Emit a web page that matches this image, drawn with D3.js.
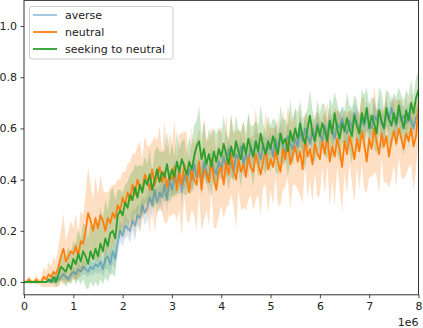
<!DOCTYPE html>
<html><head><meta charset="utf-8">
<script src="https://cdn.jsdelivr.net/npm/d3@7"></script>
<style>body{margin:0;background:#fff}svg{display:block}</style>
</head><body>
<script>
const seriesNames = ["averse", "neutral", "seeking to neutral"];
const xTicks = [0,1e6,2e6,3e6,4e6,5e6,6e6,7e6,8e6];
const yTicks = [0,0.2,0.4,0.6,0.8,1.0];
const steps = d3.range(0, 8000001, 50000);

const averseMean = [
0,0,0,0,0,0,0,0,0,0,
0,0.01,0,0.02,0.01,0.02,0.03,0.02,0.01,0.03,
0.04,0.03,0.05,0.04,0.06,0.05,0.04,0.06,0.05,0.07,
0.06,0.08,0.05,0.09,0.1,0.07,0.12,0.09,0.15,0.2,
0.18,0.22,0.21,0.2,0.24,0.22,0.26,0.25,0.3,0.27,
0.29,0.33,0.3,0.36,0.31,0.35,0.33,0.38,0.32,0.4,
0.36,0.41,0.38,0.43,0.35,0.42,0.39,0.44,0.4,0.46,
0.41,0.45,0.39,0.47,0.43,0.4,0.48,0.44,0.42,0.47,
0.44,0.49,0.45,0.52,0.47,0.43,0.5,0.48,0.53,0.46,
0.5,0.47,0.53,0.49,0.55,0.51,0.48,0.54,0.5,0.52,
0.54,0.49,0.56,0.52,0.58,0.53,0.5,0.57,0.54,0.52,
0.56,0.53,0.59,0.55,0.6,0.57,0.54,0.6,0.56,0.62,
0.58,0.55,0.61,0.57,0.63,0.59,0.56,0.62,0.6,0.64,
0.6,0.58,0.63,0.6,0.66,0.62,0.59,0.64,0.61,0.65,
0.62,0.6,0.65,0.63,0.67,0.62,0.6,0.66,0.63,0.68,
0.64,0.61,0.67,0.63,0.65,0.62,0.66,0.63,0.6,0.64,
0.66];
const averseSpread = [
0,0,0,0,0,0,0,0,0,0,
0.005,0.01,0.01,0.015,0.01,0.02,0.02,0.015,0.01,0.02,
0.02,0.025,0.03,0.02,0.03,0.025,0.02,0.03,0.025,0.03,
0.03,0.04,0.03,0.04,0.05,0.04,0.05,0.04,0.05,0.04,
0.04,0.05,0.03,0.05,0.04,0.06,0.04,0.05,0.03,0.05,
0.05,0.04,0.06,0.04,0.05,0.03,0.06,0.04,0.05,0.04,
0.04,0.06,0.05,0.04,0.06,0.05,0.03,0.05,0.04,0.06,
0.05,0.04,0.06,0.05,0.04,0.06,0.05,0.04,0.05,0.06,
0.04,0.05,0.06,0.04,0.05,0.04,0.06,0.05,0.04,0.05,
0.05,0.06,0.04,0.05,0.04,0.06,0.05,0.04,0.06,0.05,
0.04,0.05,0.06,0.04,0.05,0.06,0.04,0.05,0.04,0.06,
0.05,0.04,0.06,0.05,0.04,0.05,0.06,0.04,0.05,0.04,
0.06,0.04,0.05,0.04,0.06,0.05,0.04,0.05,0.06,0.04,
0.05,0.06,0.04,0.05,0.04,0.06,0.05,0.04,0.05,0.06,
0.04,0.05,0.06,0.04,0.05,0.04,0.06,0.05,0.04,0.05,
0.05,0.04,0.05,0.06,0.04,0.05,0.04,0.06,0.05,0.04,
0.05];

const neutralMean = [
0,0,0.01,0,0,0.01,0,0,0.02,0.01,
0.03,0.02,0.04,0.03,0.06,0.1,0.13,0.08,0.1,0.12,
0.11,0.14,0.1,0.16,0.15,0.2,0.27,0.24,0.2,0.25,
0.21,0.26,0.24,0.2,0.25,0.23,0.27,0.25,0.3,0.28,
0.33,0.3,0.35,0.32,0.38,0.34,0.4,0.37,0.36,0.42,
0.4,0.36,0.44,0.38,0.41,0.45,0.39,0.43,0.37,0.42,
0.4,0.45,0.36,0.43,0.38,0.46,0.41,0.35,0.44,0.4,
0.38,0.47,0.36,0.44,0.42,0.39,0.48,0.4,0.36,0.43,
0.45,0.38,0.47,0.42,0.5,0.44,0.4,0.48,0.43,0.46,
0.41,0.49,0.45,0.43,0.5,0.46,0.42,0.47,0.52,0.44,
0.48,0.45,0.51,0.47,0.43,0.52,0.48,0.55,0.46,0.5,
0.53,0.47,0.51,0.44,0.56,0.49,0.52,0.46,0.54,0.5,
0.48,0.55,0.5,0.58,0.47,0.53,0.49,0.56,0.52,0.45,
0.55,0.5,0.57,0.53,0.48,0.56,0.51,0.59,0.54,0.47,
0.56,0.52,0.6,0.55,0.5,0.58,0.53,0.57,0.49,0.55,
0.59,0.54,0.6,0.56,0.52,0.58,0.55,0.6,0.53,0.57,
0.68];
const neutralSpread = [
0.005,0.01,0.015,0.01,0.005,0.02,0.01,0.02,0.04,0.03,
0.05,0.04,0.06,0.05,0.08,0.1,0.14,0.08,0.1,0.12,
0.1,0.13,0.09,0.12,0.11,0.15,0.18,0.14,0.12,0.16,
0.13,0.16,0.12,0.15,0.1,0.14,0.11,0.13,0.1,0.12,
0.1,0.13,0.11,0.15,0.12,0.16,0.13,0.18,0.12,0.15,
0.13,0.17,0.11,0.19,0.14,0.16,0.12,0.2,0.14,0.16,
0.14,0.18,0.12,0.15,0.2,0.13,0.17,0.12,0.16,0.14,
0.18,0.13,0.16,0.2,0.14,0.17,0.12,0.19,0.15,0.17,
0.15,0.13,0.18,0.12,0.16,0.14,0.19,0.12,0.15,0.17,
0.13,0.17,0.11,0.15,0.18,0.12,0.16,0.1,0.14,0.17,
0.12,0.15,0.1,0.17,0.13,0.16,0.11,0.14,0.18,0.12,
0.15,0.11,0.17,0.13,0.1,0.16,0.12,0.15,0.11,0.17,
0.14,0.1,0.16,0.12,0.17,0.13,0.19,0.11,0.15,0.18,
0.12,0.16,0.1,0.14,0.17,0.11,0.15,0.13,0.18,0.12,
0.15,0.11,0.17,0.13,0.16,0.1,0.14,0.18,0.12,0.15,
0.13,0.17,0.11,0.15,0.12,0.16,0.1,0.14,0.17,0.13,
0.12];

const seekingMean = [
0,0,0,0,0,0,0,0,0,0,
0.01,0,0.02,0,0.03,0.06,0.05,0.04,0.07,0.05,
0.09,0.07,0.11,0.08,0.12,0.1,0.07,0.12,0.09,0.13,
0.1,0.15,0.12,0.17,0.14,0.19,0.2,0.17,0.26,0.28,
0.26,0.31,0.29,0.34,0.32,0.37,0.33,0.38,0.35,0.4,
0.38,0.42,0.36,0.4,0.44,0.39,0.43,0.41,0.46,0.4,
0.44,0.41,0.47,0.43,0.48,0.45,0.42,0.47,0.44,0.49,
0.53,0.55,0.48,0.52,0.46,0.5,0.45,0.51,0.47,0.52,
0.49,0.54,0.5,0.46,0.53,0.49,0.55,0.51,0.48,0.54,
0.5,0.56,0.52,0.49,0.55,0.51,0.58,0.53,0.5,0.55,
0.52,0.57,0.53,0.5,0.58,0.54,0.56,0.51,0.59,0.55,
0.6,0.56,0.62,0.57,0.54,0.6,0.65,0.58,0.55,0.61,
0.57,0.62,0.59,0.55,0.63,0.58,0.66,0.6,0.56,0.62,
0.59,0.64,0.6,0.57,0.65,0.61,0.58,0.66,0.62,0.68,
0.6,0.65,0.62,0.58,0.67,0.63,0.6,0.68,0.64,0.61,
0.66,0.62,0.69,0.64,0.6,0.67,0.63,0.7,0.66,0.72,
0.75];
const seekingSpread = [
0,0,0,0,0,0,0,0,0,0.005,
0.01,0.01,0.02,0.02,0.04,0.05,0.05,0.06,0.07,0.06,
0.07,0.08,0.1,0.09,0.11,0.12,0.1,0.12,0.11,0.13,
0.12,0.14,0.13,0.15,0.14,0.16,0.17,0.15,0.1,0.08,
0.09,0.07,0.1,0.08,0.11,0.09,0.12,0.08,0.1,0.09,
0.08,0.1,0.07,0.11,0.09,0.12,0.08,0.1,0.13,0.09,
0.1,0.08,0.12,0.09,0.07,0.11,0.08,0.1,0.09,0.12,
0.1,0.14,0.09,0.11,0.08,0.1,0.12,0.09,0.11,0.08,
0.09,0.11,0.08,0.1,0.12,0.09,0.1,0.08,0.11,0.09,
0.08,0.1,0.09,0.12,0.08,0.1,0.11,0.09,0.08,0.1,
0.09,0.07,0.1,0.08,0.11,0.09,0.08,0.1,0.12,0.09,
0.08,0.1,0.09,0.07,0.11,0.08,0.1,0.09,0.08,0.1,
0.09,0.08,0.1,0.07,0.09,0.11,0.08,0.1,0.09,0.07,
0.08,0.1,0.09,0.11,0.08,0.1,0.07,0.09,0.11,0.08,
0.09,0.07,0.1,0.08,0.09,0.11,0.08,0.07,0.1,0.09,
0.08,0.1,0.07,0.09,0.11,0.08,0.1,0.09,0.07,0.08,
0.07];

const colors = ["#1f77b4", "#ff7f0e", "#2ca02c"];
const lineOpacity = [0.45, 1, 1];
const fillOpacity = [0.18, 0.25, 0.25];
const means = [averseMean, neutralMean, seekingMean];
const spreads = [averseSpread, neutralSpread, seekingSpread];

const W = 423, H = 328;
const svg = d3.select("body").append("svg").attr("width", W).attr("height", H)
  .style("font-family", "DejaVu Sans, sans-serif");

const x = d3.scaleLinear().domain([0, 8e6]).range([24, 418.5]);
const y = d3.scaleLinear().domain([-0.05, 1.1]).range([294.8, 0.4]);

const clipId = "plotclip";
svg.append("clipPath").attr("id", clipId).append("rect")
  .attr("x", 24).attr("y", 0.4).attr("width", 394.5).attr("height", 294.4);

const plot = svg.append("g").attr("clip-path", `url(#${clipId})`);

means.forEach((m, k) => {
  const pts = steps.map((s, i) => ({s, m: m[i], d: spreads[k][i]}));
  const area = d3.area().x(d => x(d.s)).y0(d => y(d.m - d.d)).y1(d => y(d.m + d.d));
  plot.append("path").attr("d", area(pts)).attr("fill", colors[k]).attr("fill-opacity", fillOpacity[k]);
});
means.forEach((m, k) => {
  const pts = steps.map((s, i) => ({s, m: m[i]}));
  const line = d3.line().x(d => x(d.s)).y(d => y(d.m));
  plot.append("path").attr("d", line(pts)).attr("fill", "none")
    .attr("stroke", colors[k]).attr("stroke-opacity", lineOpacity[k])
    .attr("stroke-width", 1.8).attr("stroke-linejoin", "round");
});

// axes
const xAxis = d3.axisBottom(x).tickValues(xTicks).tickFormat(d => d / 1e6).tickSize(3.5).tickPadding(3.5);
const yAxis = d3.axisLeft(y).tickValues(yTicks).tickFormat(d3.format(".1f")).tickSize(3.5).tickPadding(3.5);
const gx = svg.append("g").attr("transform", "translate(0,294.8)").call(xAxis);
const gy = svg.append("g").attr("transform", "translate(24,0)").call(yAxis);
[gx, gy].forEach(g => {
  g.select(".domain").remove();
  g.selectAll("line").attr("stroke", "#333").attr("stroke-width", 0.9);
  g.selectAll("text").attr("fill", "#222").style("font-size", "11px").style("font-family", "DejaVu Sans, sans-serif");
});

// frame
svg.append("rect").attr("x", 24).attr("y", 0.4).attr("width", 394.5).attr("height", 294.4)
  .attr("fill", "none").attr("stroke", "#333").attr("stroke-width", 1);

svg.append("text").attr("x", 418.5).attr("y", 326).attr("text-anchor", "end")
  .attr("fill", "#222").style("font-size", "11px").text("1e6");

// legend
const lg = svg.append("g");
lg.append("rect").attr("x", 29.5).attr("y", 6.5).attr("width", 143.5).attr("height", 52.5)
  .attr("rx", 2.5).attr("fill", "#fff").attr("fill-opacity", 0.8).attr("stroke", "#ccc").attr("stroke-width", 1);
seriesNames.forEach((n, k) => {
  const yy = 15 + k * 17;
  lg.append("line").attr("x1", 33).attr("x2", 57).attr("y1", yy).attr("y2", yy)
    .attr("stroke", colors[k]).attr("stroke-opacity", lineOpacity[k]).attr("stroke-width", 1.8);
  lg.append("text").attr("x", 65).attr("y", yy).attr("dy", "0.35em").attr("fill", "#222")
    .style("font-size", "11px").text(n);
});
</script>
</body></html>
